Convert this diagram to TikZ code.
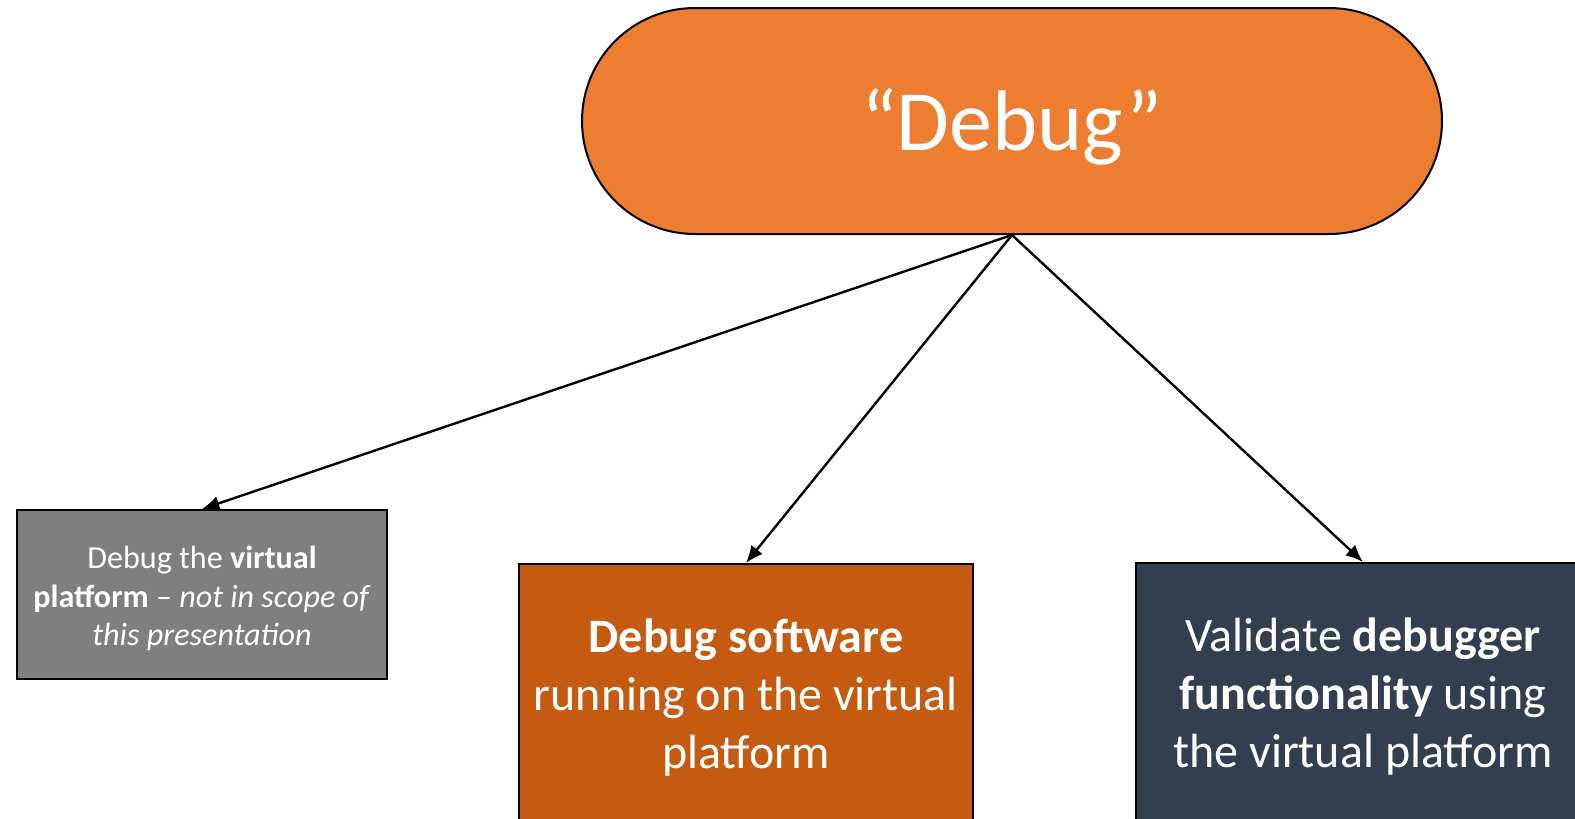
\documentclass[tikz,border=0pt]{standalone}
\usepackage{fontspec}
\setmainfont{Carlito}
\usetikzlibrary{arrows.meta,shapes.misc}
\definecolor{topfill}{HTML}{ED7D31}
\definecolor{swfill}{HTML}{C55A11}
\definecolor{dbgfill}{HTML}{333F50}
\definecolor{vpfill}{HTML}{7F7F7F}
\tikzset{
  box/.style={draw=black, line width=1.5pt, inner sep=0pt},
  label text/.style={text=white, align=center, inner sep=0pt},
  bigtext/.style={font=\fontsize{36}{43.5}\selectfont},
  smalltext/.style={font=\fontsize{24.1}{29}\selectfont},
  link/.style={line width=1.8pt, -{Latex[length=13pt,width=11pt]}}
}
\begin{document}
\begin{tikzpicture}[x=0.75pt,y=-0.75pt]
  \useasboundingbox (0,0) rectangle (1575,818);
  \clip (0,0) rectangle (1575,818);
  \fill[white] (0,0) rectangle (1575,818);

  % main topic
  \node[box, rounded rectangle, fill=topfill, minimum width=645pt, minimum height=169.5pt]
    (debug) at (1012,121) {};
  \node[label text, font=\fontsize{64.5}{78}\selectfont] (debugtext) at (1012,127) {“Debug”};

  % three kinds of debugging
  \node[box, fill=vpfill, minimum width=277.5pt, minimum height=126.75pt]
    (vp) at (202,594.5) {};
  \node[label text, smalltext] (vptext) at (202,598.5)
    {Debug the \textbf{virtual}\\ \textbf{platform} – \textit{not in scope of}\\ \textit{this presentation}};

  \node[box, fill=swfill, minimum width=340.5pt, minimum height=193.5pt]
    (sw) at (746,693) {};
  \node[label text, bigtext] (swtext) at (746,698)
    {\textbf{Debug software}\\ running on the virtual\\ platform};

  \node[box, fill=dbgfill, minimum width=340.5pt, minimum height=198pt]
    (dbg) at (1363,695) {};
  \node[label text, bigtext] (dbgtext) at (1363,697)
    {Validate \textbf{debugger}\\ \textbf{functionality} using\\ the virtual platform};

  % connectors
  \draw[link] (debug.south) -- (vp.north);
  \draw[link] (debug.south) -- (sw.north);
  \draw[link] (debug.south) -- (dbg.north);
\end{tikzpicture}
\end{document}
